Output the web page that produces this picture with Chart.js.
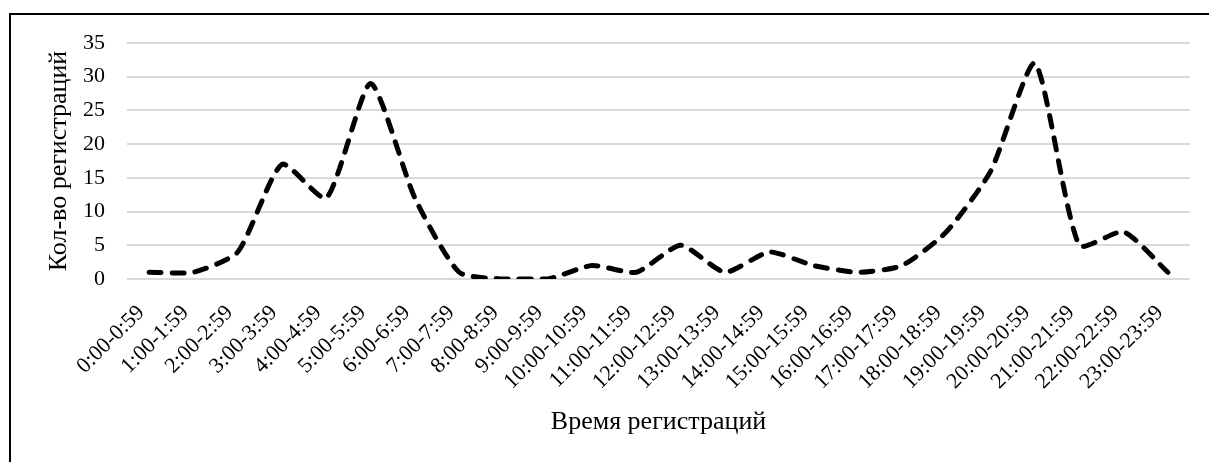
<!DOCTYPE html>
<html>
<head>
<meta charset="utf-8">
<script src="https://cdn.jsdelivr.net/npm/chart.js@4"></script>
<style>
  html, body { margin: 0; padding: 0; background: #fff; overflow: hidden; }
  #wrap { position: relative; width: 1209px; height: 462px; }
  #frame { position: absolute; left: 9px; top: 13px; width: 1400px; height: 700px; border: 2px solid #000; box-sizing: border-box; pointer-events: none; }
  canvas { position: absolute; left: 0; top: 0; }
</style>
</head>
<body>
<div id="wrap">
  <canvas id="c" width="1209" height="462"></canvas>
  <div id="frame"></div>
</div>
<script>
const categories = ["0:00-0:59","1:00-1:59","2:00-2:59","3:00-3:59","4:00-4:59","5:00-5:59","6:00-6:59","7:00-7:59","8:00-8:59","9:00-9:59","10:00-10:59","11:00-11:59","12:00-12:59","13:00-13:59","14:00-14:59","15:00-15:59","16:00-16:59","17:00-17:59","18:00-18:59","19:00-19:59","20:00-20:59","21:00-21:59","22:00-22:59","23:00-23:59"];
const registrations = [1,1,4,17,12,29,12,1,0,0,2,1,5,1,4,2,1,2,7,16,32,5,7,1];
const yTicks = [0,5,10,15,20,25,30,35];
const xTitle = "Время регистраций";
const yTitle = "Кол-во регистраций";

const FONT = "'Liberation Serif', 'Times New Roman', serif";

new Chart(document.getElementById('c'), {
  type: 'line',
  data: {
    labels: categories,
    datasets: [{
      data: registrations,
      borderColor: '#000',
      borderWidth: 5,
      borderDash: [12, 11],
      borderCapStyle: 'round',
      borderJoinStyle: 'round',
      pointRadius: 0,
      tension: 0.2,
      fill: false
    }]
  },
  options: {
    responsive: false,
    animation: false,
    events: [],
    layout: { padding: { top: 43, right: 19, left: 0, bottom: 0 } },
    plugins: { legend: { display: false }, tooltip: { enabled: false } },
    scales: {
      x: {
        offset: true,
        grid: { display: false },
        border: { display: false },
        ticks: {
          color: '#000',
          font: { family: FONT, size: 22 },
          minRotation: 45, maxRotation: 45,
          autoSkip: false,
          padding: 13,
          labelOffset: -8
        },
        title: {
          display: true, text: xTitle, color: '#000',
          font: { family: FONT, size: 26 },
          padding: { top: 0, bottom: 24 }
        },
        afterFit: (s) => { s.height = 183; }
      },
      y: {
        min: 0, max: 35,
        afterBuildTicks: (s) => { s.ticks = yTicks.map(v => ({ value: v })); },
        grid: { color: '#d9d9d9', lineWidth: 2, drawTicks: false },
        border: { display: false },
        ticks: {
          color: '#000',
          font: { family: FONT, size: 22 },
          padding: 22
        },
        title: {
          display: true, text: yTitle, color: '#000',
          font: { family: FONT, size: 26 },
          padding: { top: 44, bottom: 0 }
        },
        afterFit: (s) => { s.width = 127; }
      }
    }
  }
});
</script>
</body>
</html>
